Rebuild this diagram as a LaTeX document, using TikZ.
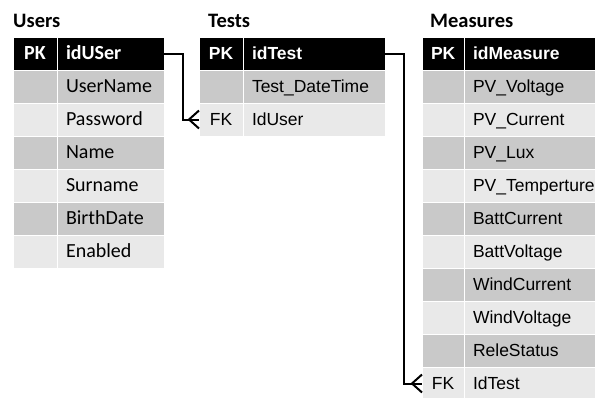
\documentclass[tikz,border=0pt]{standalone}
\usepackage{fontspec}
\setmainfont{Carlito}
\newfontfamily\arialfont{Liberation Sans}
\usetikzlibrary{positioning}

\definecolor{rowdark}{RGB}{201,201,201}
\definecolor{rowlight}{RGB}{233,233,233}

\newcommand{\ufont}{\fontsize{20}{23}\selectfont}
\newcommand{\tfont}{\arialfont\fontsize{17.5}{20}\selectfont}

\tikzset{
  cell/.style={draw=white, line width=1pt, outer sep=0pt,
    inner xsep=9pt, inner ysep=0pt, minimum height=33pt,
    text height=14pt, text depth=2pt, align=left},
  pk/.style={text width=26pt, align=center},
  mpk/.style={text width=24pt, align=center},
  ufield/.style={text width=89pt},
  tfield/.style={text width=124pt},
  mfield/.style={text width=113pt},
  ucell/.style={cell, font=\ufont},
  tcell/.style={cell, font=\tfont},
  uhead/.style={cell, font=\ufont\bfseries, fill=black, text=white},
  thead/.style={cell, font=\tfont\bfseries, fill=black, text=white},
  dark/.style={fill=rowdark},
  light/.style={fill=rowlight},
  title/.style={anchor=base west, inner sep=0pt, font=\fontsize{20.5}{24}\selectfont\bfseries},
  link/.style={line width=2pt}
}

\begin{document}
\begin{tikzpicture}[x=1pt, y=-1pt]

\useasboundingbox (0,0) rectangle (595,397);

% Users
\node[title] (utitle) at (13,27) {Users};
\node[uhead, pk, anchor=north west] (u0pk) at (13,37) {PK};
\node[uhead, ufield, right=0pt of u0pk] (u0) {idUSer};
\node[ucell, pk, dark, below=0pt of u0pk] (u1pk) {};
\node[ucell, ufield, dark, right=0pt of u1pk] (u1) {UserName};
\node[ucell, pk, light, below=0pt of u1pk] (u2pk) {};
\node[ucell, ufield, light, right=0pt of u2pk] (u2) {Password};
\node[ucell, pk, dark, below=0pt of u2pk] (u3pk) {};
\node[ucell, ufield, dark, right=0pt of u3pk] (u3) {Name};
\node[ucell, pk, light, below=0pt of u3pk] (u4pk) {};
\node[ucell, ufield, light, right=0pt of u4pk] (u4) {Surname};
\node[ucell, pk, dark, below=0pt of u4pk] (u5pk) {};
\node[ucell, ufield, dark, right=0pt of u5pk] (u5) {BirthDate};
\node[ucell, pk, light, below=0pt of u5pk] (u6pk) {};
\node[ucell, ufield, light, right=0pt of u6pk] (u6) {Enabled};

% Tests
\node[title] (ttitle) at (208,27) {Tests};
\node[thead, pk, anchor=north west] (t0pk) at (199,37) {PK};
\node[thead, tfield, right=0pt of t0pk] (t0) {idTest};
\node[tcell, pk, dark, below=0pt of t0pk] (t1pk) {};
\node[tcell, tfield, dark, right=0pt of t1pk] (t1) {Test\_DateTime};
\node[tcell, pk, light, below=0pt of t1pk] (t2pk) {FK};
\node[tcell, tfield, light, right=0pt of t2pk] (t2) {IdUser};

% Measures
\node[title] (mtitle) at (430,27) {Measures};
\node[thead, mpk, anchor=north west] (m0pk) at (422,37) {PK};
\node[thead, mfield, right=0pt of m0pk] (m0) {idMeasure};
\node[tcell, mpk, dark, below=0pt of m0pk] (m1pk) {};
\node[tcell, mfield, dark, right=0pt of m1pk] (m1) {PV\_Voltage};
\node[tcell, mpk, light, below=0pt of m1pk] (m2pk) {};
\node[tcell, mfield, light, right=0pt of m2pk] (m2) {PV\_Current};
\node[tcell, mpk, dark, below=0pt of m2pk] (m3pk) {};
\node[tcell, mfield, dark, right=0pt of m3pk] (m3) {PV\_Lux};
\node[tcell, mpk, light, below=0pt of m3pk] (m4pk) {};
\node[tcell, mfield, light, right=0pt of m4pk] (m4) {PV\_Temperture};
\node[tcell, mpk, dark, below=0pt of m4pk] (m5pk) {};
\node[tcell, mfield, dark, right=0pt of m5pk] (m5) {BattCurrent};
\node[tcell, mpk, light, below=0pt of m5pk] (m6pk) {};
\node[tcell, mfield, light, right=0pt of m6pk] (m6) {BattVoltage};
\node[tcell, mpk, dark, below=0pt of m6pk] (m7pk) {};
\node[tcell, mfield, dark, right=0pt of m7pk] (m7) {WindCurrent};
\node[tcell, mpk, light, below=0pt of m7pk] (m8pk) {};
\node[tcell, mfield, light, right=0pt of m8pk] (m8) {WindVoltage};
\node[tcell, mpk, dark, below=0pt of m8pk] (m9pk) {};
\node[tcell, mfield, dark, right=0pt of m9pk] (m9) {ReleStatus};
\node[tcell, mpk, light, below=0pt of m9pk] (m10pk) {FK};
\node[tcell, mfield, light, right=0pt of m10pk] (m10) {IdTest};

% Users -> Tests
\draw[link] (u0.east) -- ++(19,0) |- (t2pk.west);
\draw[link] ([yshift=9pt]t2pk.west) -- ([xshift=-10pt]t2pk.west) -- ([yshift=-9pt]t2pk.west);

% Tests -> Measures
\draw[link] (t0.east) -- ++(19,0) |- (m10pk.west);
\draw[link] ([yshift=9pt]m10pk.west) -- ([xshift=-10pt]m10pk.west) -- ([yshift=-9pt]m10pk.west);

\end{tikzpicture}
\end{document}
